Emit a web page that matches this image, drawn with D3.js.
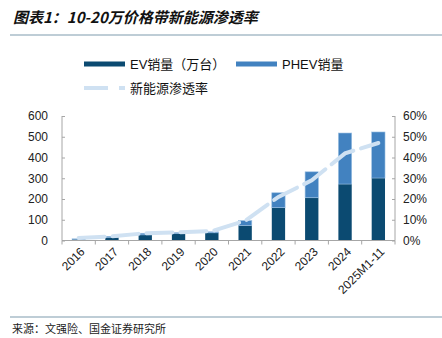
<!DOCTYPE html>
<html>
<head>
<meta charset="utf-8">
<script src="https://cdn.jsdelivr.net/npm/d3@7"></script>
<style>
  body { margin: 0; background: #fff; }
  svg { display: block; font-family: "Liberation Sans", Arial, sans-serif; }
</style>
</head>
<body>
<div id="chart"></div>
<script>
// Chart data
const years = ["2016", "2017", "2018", "2019", "2020", "2021", "2022", "2023", "2024", "2025M1-11"];
const evSales = [6, 15, 27, 33, 37, 72, 158, 206, 272, 301];
const phevSales = [2, 5, 8, 5, 5, 24, 72, 125, 246, 222];
const penetration = [0.012, 0.02, 0.035, 0.04, 0.045, 0.095, 0.21, 0.29, 0.42, 0.47];
const leftTicks = [0, 100, 200, 300, 400, 500, 600];
const rightTicks = [0, 0.1, 0.2, 0.3, 0.4, 0.5, 0.6];

const width = 442, height = 338;
const margin = { left: 62, right: 47, top: 116, bottom: 97 };
const cEV = "#0b4a71", cPHEV = "#4282c0", cLine = "#cfe1f2", cAxis = "#a6a6a6";

const svg = d3.select("#chart").append("svg")
    .attr("width", width)
    .attr("height", height);

// Title + rules
svg.append("text")
    .attr("x", 13).attr("y", 23)
    .style("font-family", "'Noto Sans CJK SC', sans-serif")
    .style("font-size", "15px")
    .style("font-weight", "bold")
    .style("font-style", "italic")
    .attr("fill", "#111")
    .text("图表1：10-20万价格带新能源渗透率");

svg.append("line")
    .attr("x1", 10).attr("x2", width).attr("y1", 35).attr("y2", 35)
    .attr("stroke", "#a9bcc8").attr("stroke-width", 1.5);

svg.append("line")
    .attr("x1", 10).attr("x2", width).attr("y1", 317).attr("y2", 317)
    .attr("stroke", "#a9bcc8").attr("stroke-width", 1.5);

svg.append("text")
    .attr("x", 12).attr("y", 333)
    .style("font-family", "'Noto Sans CJK SC', sans-serif")
    .style("font-size", "11px")
    .attr("fill", "#222")
    .text("来源：文强险、国金证券研究所");

// Scales
const x = d3.scaleBand()
    .domain(years)
    .range([margin.left, width - margin.right])
    .paddingInner(0.6)
    .paddingOuter(0.3);

const y = d3.scaleLinear()
    .domain([0, 600])
    .range([height - margin.bottom - 0.5, margin.top]);

const y2 = d3.scaleLinear()
    .domain([0, 0.6])
    .range([height - margin.bottom - 0.5, margin.top]);

// Bars
const g = svg.append("g");
g.selectAll("rect.ev")
    .data(years)
    .join("rect")
    .attr("class", "ev")
    .attr("x", d => x(d))
    .attr("width", x.bandwidth())
    .attr("y", (d, i) => y(evSales[i]))
    .attr("height", (d, i) => y(0) - y(evSales[i]))
    .attr("fill", cEV);

g.selectAll("rect.phev")
    .data(years)
    .join("rect")
    .attr("class", "phev")
    .attr("x", d => x(d))
    .attr("width", x.bandwidth())
    .attr("y", (d, i) => y(evSales[i] + phevSales[i]))
    .attr("height", (d, i) => y(evSales[i]) - y(evSales[i] + phevSales[i]))
    .attr("fill", cPHEV)
    .attr("stroke", "#9cc0e2")
    .attr("stroke-width", 0.6);

// Penetration line
const line = d3.line()
    .x((d, i) => x(years[i]) + x.bandwidth() / 2)
    .y(d => y2(d));

svg.append("path")
    .datum(penetration)
    .attr("d", line)
    .attr("fill", "none")
    .attr("stroke", cLine)
    .attr("stroke-width", 4)
    .attr("stroke-linecap", "round")
    .attr("stroke-dasharray", "26,8");

// Axes
const step = x.step();
const bounds = d3.range(years.length + 1).map(i => margin.left + i * step);

const xAxis = svg.append("g");
xAxis.append("line")
    .attr("x1", margin.left).attr("x2", width - margin.right)
    .attr("y1", y(0)).attr("y2", y(0))
    .attr("stroke", cAxis);
xAxis.selectAll("line.tick")
    .data(bounds)
    .join("line")
    .attr("class", "tick")
    .attr("x1", d => d).attr("x2", d => d)
    .attr("y1", y(0)).attr("y2", y(0) + 4)
    .attr("stroke", cAxis);
xAxis.selectAll("text")
    .data(years)
    .join("text")
    .attr("transform", d => `translate(${x(d) + x.bandwidth() / 2 + 1},${y(0) + 6}) rotate(-45)`)
    .attr("text-anchor", "end")
    .attr("dy", "0.7em")
    .style("font-size", "12px")
    .attr("fill", "#222")
    .text(d => d);

const leftAxis = svg.append("g")
    .attr("transform", `translate(${margin.left},0)`)
    .call(d3.axisRight(y).tickValues(leftTicks).tickSize(3).tickFormat(d3.format("d")));
leftAxis.select(".domain").attr("stroke", cAxis);
leftAxis.selectAll(".tick line").attr("stroke", cAxis);
leftAxis.selectAll(".tick text")
    .attr("x", -14)
    .attr("text-anchor", "end")
    .style("font-size", "12px")
    .attr("fill", "#222");

const rightAxis = svg.append("g")
    .attr("transform", `translate(${width - margin.right},0)`)
    .call(d3.axisLeft(y2).tickValues(rightTicks).tickSize(3).tickFormat(d3.format(".0%")));
rightAxis.select(".domain").attr("stroke", cAxis);
rightAxis.selectAll(".tick line").attr("stroke", cAxis);
rightAxis.selectAll(".tick text")
    .attr("x", 8)
    .attr("text-anchor", "start")
    .style("font-size", "12px")
    .attr("fill", "#222");

// straight axis lines, no end caps
svg.selectAll(".domain").attr("d", `M0,${margin.top}V${y(0)}`);

// Legend
const legend = svg.append("g");
const legendItems = [
    { label: "EV销量（万台）", color: cEV, x: 84, y: 64, type: "bar" },
    { label: "PHEV销量", color: cPHEV, x: 236, y: 64, type: "bar" },
    { label: "新能源渗透率", color: cLine, x: 84, y: 88, type: "line" }
];
legendItems.forEach(d => {
    if (d.type === "bar") {
        legend.append("rect")
            .attr("x", d.x).attr("y", d.y - 2.5)
            .attr("width", 41).attr("height", 5)
            .attr("fill", d.color);
    } else {
        legend.append("line")
            .attr("x1", d.x).attr("x2", d.x + 41)
            .attr("y1", d.y).attr("y2", d.y)
            .attr("stroke", d.color).attr("stroke-width", 4)
            .attr("stroke-dasharray", "24,11");
    }
    legend.append("text")
        .attr("x", d.x + 46).attr("y", d.y)
        .attr("dy", "0.36em")
        .style("font-family", "'Liberation Sans', 'Noto Sans CJK SC', sans-serif")
        .style("font-size", "13px")
        .attr("fill", "#111")
        .text(d.label);
});
</script>
</body>
</html>
